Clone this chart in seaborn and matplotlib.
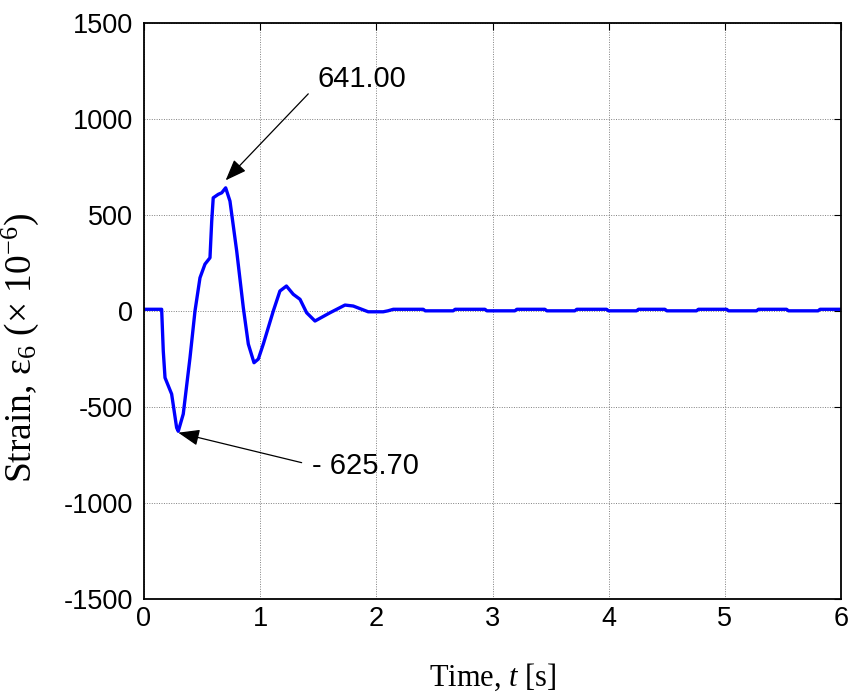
import matplotlib
matplotlib.use("Agg")
import matplotlib.pyplot as plt
import seaborn as sns
import pandas as pd

# Strain response of gauge 6 (microstrain) versus time (s)
peak_value = 641.00
trough_value = -625.70

time_s = [
    0.000, 0.152, 0.166, 0.181, 0.238, 0.281, 0.295, 0.338, 0.396, 0.439,
    0.482, 0.525, 0.568, 0.583, 0.596, 0.639, 0.669, 0.703, 0.740, 0.798,
    0.855, 0.898, 0.947, 0.984, 1.027, 1.113, 1.170, 1.226, 1.285, 1.343,
    1.400, 1.472, 1.601, 1.730, 1.801, 1.930, 2.059, 2.100, 2.146,
    2.404, 2.420, 2.662, 2.678, 2.935, 2.951, 3.193, 3.209, 3.451, 3.467,
    3.709, 3.725, 3.982, 3.998, 4.240, 4.256, 4.484, 4.500, 4.756, 4.772,
    5.015, 5.031, 5.273, 5.289, 5.531, 5.547, 5.803, 5.819, 6.000,
]
strain = [
    9, 9, -208, -347, -432, -607, trough_value, -536, -243, 0,
    173, 244, 277, 468, 589, 607, 615, peak_value, 572, 312,
    17, -172, -269, -250, -172, 0, 104, 130, 87, 61,
    -9, -52, -9, 31, 26, -4, -4, 1, 9,
    9, 1, 1, 9, 9, 1, 1, 9, 9, 1,
    1, 9, 9, 1, 1, 9, 9, 1, 1, 9,
    9, 1, 1, 9, 9, 1, 1, 9, 9,
]

x_ticks = [0, 1, 2, 3, 4, 5, 6]
y_ticks = [-1500, -1000, -500, 0, 500, 1000, 1500]

peak_time = 0.703
trough_time = 0.295

df = pd.DataFrame({"t": time_s, "strain": strain})

sns.set_style("white")
plt.rcParams["font.family"] = ["Liberation Sans", "DejaVu Sans"]
plt.rcParams["text.color"] = "black"
plt.rcParams["axes.labelcolor"] = "black"
plt.rcParams["mathtext.fontset"] = "custom"
plt.rcParams["mathtext.rm"] = "Liberation Serif"
plt.rcParams["mathtext.it"] = "Liberation Serif:italic"

fig = plt.figure(figsize=(8.51, 6.93), dpi=100)
ax = fig.add_axes([0.1692, 0.1352, 0.8191, 0.8320])

sns.lineplot(data=df, x="t", y="strain", ax=ax, color="#0000ff",
             linewidth=2.4, estimator=None, sort=False)

ax.set_xlim(0, 6)
ax.set_ylim(-1500, 1500)
ax.set_xticks(x_ticks)
ax.set_yticks(y_ticks)
ax.set_xticklabels([str(v) for v in x_ticks])
ax.set_yticklabels([str(v) for v in y_ticks])

ax.grid(True, color="0.5", linestyle=(0, (1, 1.5)), linewidth=0.7)
ax.set_axisbelow(True)
for side in ["left", "right", "top", "bottom"]:
    ax.spines[side].set_visible(True)
    ax.spines[side].set_color("black")
    ax.spines[side].set_linewidth(1.3)

ax.tick_params(axis="both", which="major", direction="in", length=5,
               width=0.8, labelsize=19.5, colors="black",
               top=True, right=True)
ax.tick_params(axis="y", pad=8)
ax.tick_params(axis="x", pad=5)

serif = "Liberation Serif"
ax.set_xlabel("Time, $t$ [s]", fontsize=22, family=serif, color="black")
ax.set_ylabel("Strain, \u03b5$_6$ (\u00d7 10$^{-6}$)", fontsize=27,
              family=serif, color="black")
ax.xaxis.set_label_coords(0.5, -0.108)
ax.yaxis.set_label_coords(-0.148, 0.436)

arrow = dict(arrowstyle="-|>,head_length=1.3,head_width=0.5",
             color="black", linewidth=0.9, shrinkA=0, shrinkB=0,
             mutation_scale=10)
# Arrows pointing at the extreme values, with their value labels
ax.annotate("", xy=(peak_time, 680), xytext=(1.414, 1130),
            arrowprops=arrow)
ax.text(1.49, 1205, f"{peak_value:.2f}", fontsize=21, ha="left",
        va="center", color="black")
ax.annotate("", xy=(trough_time, -633), xytext=(1.357, -789),
            arrowprops=arrow)
ax.text(1.443, -806, f"- {abs(trough_value):.2f}", fontsize=21, ha="left",
        va="center", color="black")

fig.savefig("out.png", dpi=100)
